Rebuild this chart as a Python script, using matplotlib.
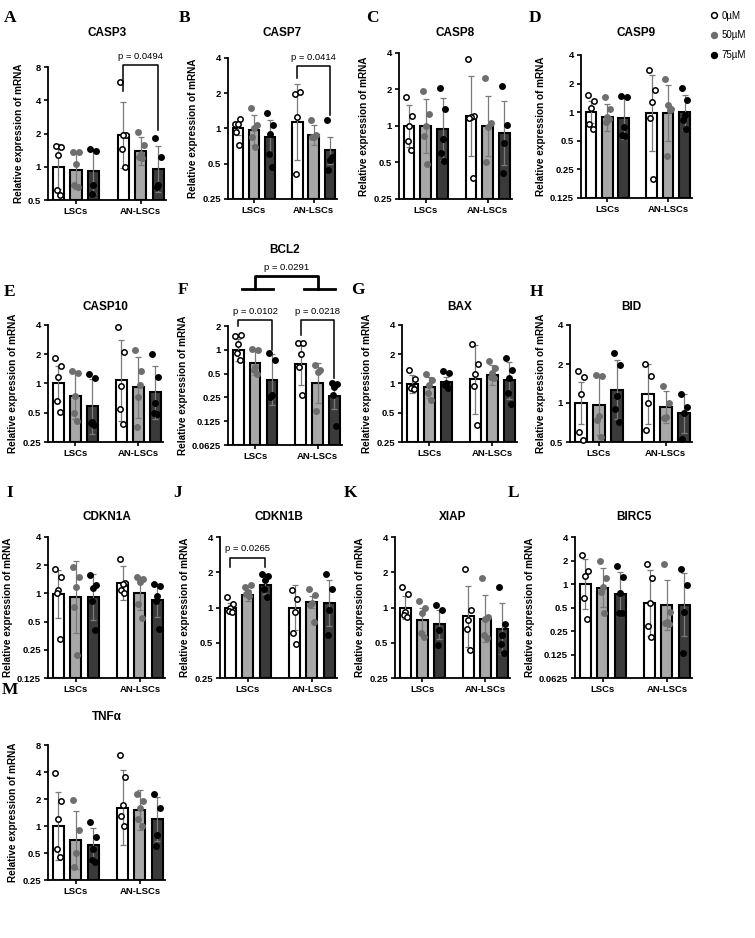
import numpy as np
import matplotlib
matplotlib.use('Agg')
import matplotlib.pyplot as plt
from matplotlib.lines import Line2D

plt.rcParams['font.family'] = ['Liberation Sans', 'DejaVu Sans']

W, H = 755, 938

group_labels = ['LSCs', 'AN-LSCs']
dose_labels = ['0µM', '50µM', '75µM']

# order of every list: LSCs 0/50/75 µM, then AN-LSCs 0/50/75 µM
# mean = geometric mean, gsd = geometric SD factor, pts = replicates
casp3_mean = [1.0, 0.93, 0.92, 1.93, 1.39, 0.95]
casp3_gsd = [1.6, 1.47, 1.59, 2.0, 1.35, 1.62]
casp3_pts = [[1.55, 1.5, 1.27, 0.62, 0.56], [1.35, 1.35, 1.05, 0.68, 0.66], [1.46, 1.4, 0.68, 0.57],
             [5.9, 1.93, 1.95, 1.45, 1.0], [2.07, 1.57, 1.3, 1.23, 1.19], [1.83, 1.23, 0.68, 0.66]]

casp7_mean = [1.0, 0.97, 0.85, 1.14, 0.88, 0.65]
casp7_gsd = [1.14, 1.34, 1.39, 2.1, 1.22, 1.31]
casp7_pts = [[1.1, 1.2, 1.1, 0.94, 0.73], [1.49, 1.07, 1.0, 0.85, 0.7], [1.35, 1.07, 0.9, 0.61, 0.47],
             [1.97, 2.03, 1.26, 0.41], [1.18, 0.88, 0.85, 0.84], [1.19, 0.57, 0.54, 0.44]]

casp8_mean = [1.0, 1.0, 0.94, 1.21, 1.0, 0.88]
casp8_gsd = [1.48, 1.68, 1.8, 2.12, 1.77, 1.83]
casp8_pts = [[1.72, 1.22, 1.0, 0.75, 0.63], [1.95, 1.25, 1.0, 0.83, 0.49], [2.04, 1.37, 0.78, 0.6, 0.51],
             [3.6, 1.21, 1.19, 1.17, 0.37], [2.5, 1.05, 0.98, 0.5], [2.14, 1.01, 0.73, 0.41]]

casp9_mean = [1.0, 0.88, 0.87, 0.98, 0.98, 1.0]
casp9_gsd = [1.3, 1.4, 1.67, 2.49, 1.99, 1.53]
casp9_pts = [[1.5, 1.3, 1.1, 0.76, 0.67], [1.45, 1.08, 0.88, 0.79, 0.84], [1.48, 1.45, 0.7, 0.57, 0.56],
             [2.76, 1.73, 1.28, 0.86, 0.2], [2.26, 1.09, 1.2, 0.35, 1.05], [1.81, 1.34, 0.93, 0.82, 0.66]]

casp10_mean = [1.0, 0.75, 0.58, 1.08, 0.91, 0.81]
casp10_gsd = [1.5, 1.72, 1.91, 2.62, 2.07, 1.88]
casp10_pts = [[1.85, 1.5, 1.17, 0.66, 0.51], [1.35, 1.27, 0.75, 0.5, 0.41], [1.25, 1.13, 0.4, 0.39, 0.37],
              [3.8, 2.11, 0.94, 0.55, 0.38], [2.23, 1.35, 0.73, 0.36, 0.96], [2.03, 1.17, 0.63, 0.5, 0.49]]

bcl2_mean = [1.0, 0.68, 0.42, 0.66, 0.38, 0.26]
bcl2_gsd = [1.37, 1.4, 2.12, 1.85, 1.79, 1.45]
bcl2_pts = [[1.5, 1.55, 1.2, 0.9, 0.75], [1.02, 0.98, 0.61, 0.56, 0.5], [0.91, 0.75, 0.27, 0.25],
            [1.22, 1.22, 0.89, 0.61, 0.27], [0.64, 0.56, 0.52, 0.17], [0.38, 0.37, 0.34, 0.27, 0.11]]

bax_mean = [0.98, 0.91, 1.04, 1.1, 1.22, 1.08]
bax_gsd = [1.24, 1.29, 1.13, 2.25, 1.26, 1.55]
bax_pts = [[1.39, 1.1, 0.92, 0.9, 0.87], [1.25, 1.08, 0.96, 0.79, 0.67], [1.34, 1.27, 1.0, 0.96, 0.9],
           [2.53, 1.6, 1.25, 0.94, 0.37], [1.69, 1.46, 1.27, 1.17, 1.13], [1.85, 1.37, 1.14, 0.79, 0.61]]

bid_mean = [1.0, 0.96, 1.27, 1.18, 0.93, 0.83]
bid_gsd = [1.45, 1.7, 1.68, 1.7, 1.33, 1.42]
bid_pts = [[1.77, 1.59, 1.18, 0.6, 0.52], [1.65, 1.63, 0.8, 0.74, 0.55], [2.43, 1.95, 1.13, 0.9, 0.71],
           [2.0, 1.63, 1.0, 0.62], [1.35, 1.0, 0.78, 0.76], [1.18, 0.93, 0.83, 0.53]]

cdkn1a_mean = [0.98, 0.92, 0.92, 1.28, 1.0, 0.85]
cdkn1a_gsd = [1.81, 2.41, 1.77, 1.52, 1.5, 1.5]
cdkn1a_pts = [[1.84, 1.5, 1.1, 1.02, 0.33], [1.92, 1.5, 1.18, 0.72, 0.22], [1.57, 1.23, 1.13, 0.82, 0.41],
              [2.35, 1.3, 1.25, 1.1, 1.0], [1.48, 1.44, 1.33, 0.78, 0.54], [1.26, 1.2, 0.94, 0.82, 0.42]]

cdkn1b_mean = [1.0, 1.27, 1.55, 1.0, 1.12, 1.1]
cdkn1b_gsd = [1.1, 1.12, 1.19, 1.55, 1.13, 1.57]
cdkn1b_pts = [[1.22, 1.08, 1.0, 0.94, 0.92], [1.5, 1.55, 1.36, 1.3, 1.25], [1.92, 1.85, 1.71, 1.45, 1.23],
              [1.42, 1.19, 0.92, 0.6, 0.49], [1.45, 1.27, 1.1, 1.05, 0.75], [1.92, 1.45, 0.96, 0.58]]

xiap_mean = [1.0, 0.78, 0.72, 0.84, 0.8, 0.66]
xiap_gsd = [1.25, 1.26, 1.33, 1.81, 1.59, 1.64]
xiap_pts = [[1.5, 1.3, 0.92, 0.86, 0.83], [1.14, 1.0, 0.9, 0.6, 0.56], [1.05, 0.96, 0.64, 0.48],
            [2.12, 0.95, 0.78, 0.66, 0.43], [1.77, 0.83, 0.8, 0.58, 0.55], [1.5, 0.73, 0.58, 0.49, 0.41]]

birc5_mean = [1.0, 0.9, 0.75, 0.57, 0.54, 0.54]
birc5_gsd = [2.06, 1.76, 1.91, 2.63, 2.07, 2.54]
birc5_pts = [[2.38, 1.48, 1.26, 0.66, 0.36], [1.98, 1.18, 0.92, 0.8, 0.42], [1.71, 1.22, 0.76, 0.43, 0.42],
             [1.8, 1.18, 0.57, 0.29, 0.21], [1.83, 0.44, 0.33, 0.32, 0.31], [1.55, 0.97, 0.44, 0.13]]

tnfa_mean = [1.0, 0.7, 0.61, 1.6, 1.5, 1.2]
tnfa_gsd = [2.4, 2.1, 1.56, 2.6, 1.67, 1.75]
tnfa_pts = [[3.9, 1.9, 1.2, 0.55, 0.45], [1.95, 0.9, 0.5, 0.35], [1.1, 0.75, 0.55, 0.42, 0.4],
            [6.2, 3.5, 1.7, 1.3, 1.0], [2.3, 1.9, 1.6, 1.2, 1.0], [2.3, 1.6, 0.8, 0.6]]

# panel: letter, title, data, y ticks, axes box in pixels (left, top, right, bottom)
panels = [
    ('A', 'CASP3', casp3_mean, casp3_gsd, casp3_pts, [0.5, 1, 2, 4, 8], (48, 67, 166, 200)),
    ('B', 'CASP7', casp7_mean, casp7_gsd, casp7_pts, [0.25, 0.5, 1, 2, 4], (228, 58, 337, 199)),
    ('C', 'CASP8', casp8_mean, casp8_gsd, casp8_pts, [0.25, 0.5, 1, 2, 4], (399, 53, 512, 199)),
    ('D', 'CASP9', casp9_mean, casp9_gsd, casp9_pts, [0.125, 0.25, 0.5, 1, 2, 4], (581, 55, 692, 198)),
    ('E', 'CASP10', casp10_mean, casp10_gsd, casp10_pts, [0.25, 0.5, 1, 2, 4], (48, 325, 163, 442)),
    ('F', 'BCL2', bcl2_mean, bcl2_gsd, bcl2_pts, [0.0625, 0.125, 0.25, 0.5, 1, 2], (228, 326, 342, 445)),
    ('G', 'BAX', bax_mean, bax_gsd, bax_pts, [0.25, 0.5, 1, 2, 4], (402, 325, 517, 442)),
    ('H', 'BID', bid_mean, bid_gsd, bid_pts, [0.5, 1, 2, 4], (570, 325, 692, 442)),
    ('I', 'CDKN1A', cdkn1a_mean, cdkn1a_gsd, cdkn1a_pts, [0.125, 0.25, 0.5, 1, 2, 4], (48, 537, 165, 678)),
    ('J', 'CDKN1B', cdkn1b_mean, cdkn1b_gsd, cdkn1b_pts, [0.25, 0.5, 1, 2, 4], (220, 537, 337, 678)),
    ('K', 'XIAP', xiap_mean, xiap_gsd, xiap_pts, [0.25, 0.5, 1, 2, 4], (395, 537, 510, 678)),
    ('L', 'BIRC5', birc5_mean, birc5_gsd, birc5_pts, [0.0625, 0.125, 0.25, 0.5, 1, 2, 4], (575, 537, 692, 678)),
    ('M', 'TNFα', tnfa_mean, tnfa_gsd, tnfa_pts, [0.25, 0.5, 1, 2, 4, 8], (48, 745, 165, 880)),
]

letter_pos = {'A': (10, 18), 'B': (185, 18), 'C': (372, 18), 'D': (535, 18),
              'E': (10, 292), 'F': (183, 290), 'G': (358, 290), 'H': (536, 292),
              'I': (10, 493), 'J': (178, 493), 'K': (350, 493), 'L': (513, 493),
              'M': (10, 690)}
title_y = {'A': 33, 'B': 33, 'C': 33, 'D': 33, 'E': 307, 'F': 250, 'G': 307, 'H': 307,
           'I': 517, 'J': 517, 'K': 517, 'L': 517, 'M': 717}

# significance brackets: panel, x-left bar, x-right bar, top, left leg end, right leg end, label
brackets = [
    ('A', 3, 5, 8.3, 4.9, 2.14, 'p = 0.0494'),
    ('B', 3, 5, 3.4, 2.69, 1.3, 'p = 0.0414'),
    ('F', 0, 2, 2.36, 1.98, 1.0, 'p = 0.0102'),
    ('F', 3, 5, 2.36, 1.55, 0.44, 'p = 0.0218'),
    ('J', 0, 2, 2.67, 2.2, 2.2, 'p = 0.0265'),
]

xpos = np.array([0, 1, 2, 3.7, 4.7, 5.7])
bar_colors = ['white', '#a8a8a8', '#3a3a3a']
pt_face = ['white', '#6e6e6e', 'black']
pt_edge = ['black', '#6e6e6e', 'black']
jitter = [-0.17, 0.17, 0.0, -0.09, 0.1]

fig = plt.figure(figsize=(W / 100, H / 100), dpi=100)
axes = {}

for letter, title, mean, gsd, pts, yt, box in panels:
    l, t, r, b = box
    ax = fig.add_axes([l / W, 1 - b / H, (r - l) / W, (b - t) / H])
    axes[letter] = ax
    ax.set_yscale('log', base=2)
    ylo = yt[0]
    mean = np.array(mean)
    gsd = np.array(gsd)
    for i in range(6):
        ax.bar(xpos[i], mean[i] - ylo, bottom=ylo, width=0.64, color=bar_colors[i % 3],
               edgecolor='black', linewidth=1.5, zorder=2)
    lo = mean / gsd
    hi = mean * gsd
    ax.errorbar(xpos, mean, yerr=[mean - lo, hi - mean], fmt='none', ecolor='#7a7a7a',
                elinewidth=0.9, capsize=2.2, capthick=0.9, zorder=3)
    for i in range(6):
        p = pts[i]
        ax.scatter(xpos[i] + np.array(jitter[:len(p)]), p, s=15, facecolor=pt_face[i % 3],
                   edgecolor=pt_edge[i % 3], linewidth=1.1, zorder=4, clip_on=False)
    ax.set_ylim(yt[0], yt[-1])
    ax.set_xlim(-0.6, 6.15)
    ax.set_yticks(yt)
    ax.set_yticklabels(['%g' % v for v in yt])
    ax.yaxis.set_minor_locator(matplotlib.ticker.NullLocator())
    ax.set_xticks([1, 4.7])
    ax.set_xticklabels(group_labels)
    ax.tick_params(width=1.2, length=3, labelsize=6.8, pad=2)
    for lab in ax.get_xticklabels() + ax.get_yticklabels():
        lab.set_fontweight('bold')
    ax.spines['top'].set_visible(False)
    ax.spines['right'].set_visible(False)
    ax.spines['left'].set_linewidth(1.3)
    ax.spines['bottom'].set_linewidth(1.3)
    ax.set_ylabel('Relative expression of mRNA', fontsize=7.2, fontweight='bold', labelpad=3)
    fig.text((l + r) / 2 / W, 1 - title_y[letter] / H, title, ha='center', va='center',
             fontsize=8.5, fontweight='bold')
    lx, ly = letter_pos[letter]
    fig.text(lx / W, 1 - ly / H, letter, ha='center', va='center', fontsize=12.5,
             fontweight='bold', family='Liberation Serif')

for letter, i1, i2, top, yl, yr, txt in brackets:
    ax = axes[letter]
    x1, x2 = xpos[i1], xpos[i2]
    ax.plot([x1, x1, x2, x2], [yl, top, top, yr], color='black', lw=1.1, clip_on=False, zorder=5)
    ax.annotate(txt, ((x1 + x2) / 2, top), xytext=(0, 3), textcoords='offset points',
                ha='center', va='bottom', fontsize=6.8, annotation_clip=False)

# overall BCL2 comparison between cell lines
ax = axes['F']
ax.plot([0.2, 2.05], [5.8, 5.8], color='black', lw=2, clip_on=False)
ax.plot([3.9, 5.75], [5.8, 5.8], color='black', lw=2, clip_on=False)
ax.plot([1, 1, 4.7, 4.7], [5.8, 8.6, 8.6, 5.8], color='black', lw=2, clip_on=False)
ax.annotate('p = 0.0291', (2.85, 8.6), xytext=(0, 3), textcoords='offset points',
            ha='center', va='bottom', fontsize=6.8, annotation_clip=False)

handles = [Line2D([], [], ls='none', marker='o', ms=4.2, mfc=pt_face[k], mec=pt_edge[k], mew=1.1)
           for k in range(3)]
fig.legend(handles, dose_labels, loc='upper left', bbox_to_anchor=(700 / W, 1 - 2 / H),
           frameon=False, fontsize=7, handletextpad=0.3, labelspacing=1.0, handlelength=1.0)

fig.savefig('out.png', dpi=100)
